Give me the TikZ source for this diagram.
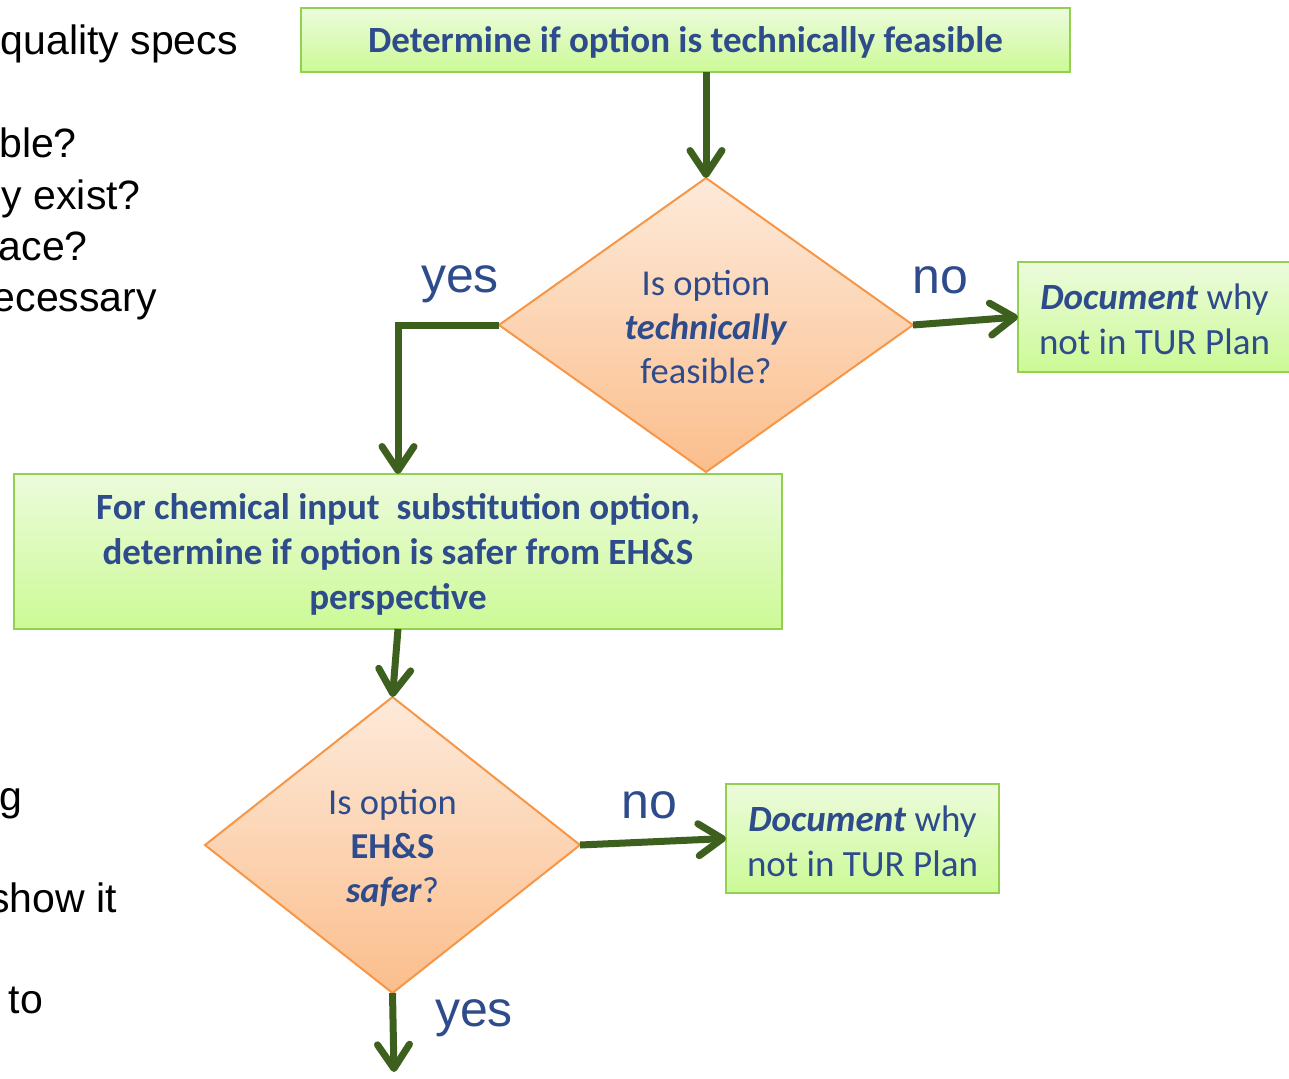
\documentclass[tikz,border=0pt]{standalone}
\usepackage{fontspec}
\setmainfont{Carlito}
\newfontfamily\arialfont{Liberation Sans}
\usetikzlibrary{arrows.meta,shapes.geometric}

\definecolor{textblue}{RGB}{46,75,140}
\definecolor{flowgreen}{RGB}{62,96,30}
\definecolor{boxtop}{RGB}{236,251,220}
\definecolor{boxbottom}{RGB}{204,250,150}
\definecolor{boxedge}{RGB}{146,208,80}
\definecolor{diatop}{RGB}{253,234,218}
\definecolor{diabottom}{RGB}{251,190,140}
\definecolor{diaedge}{RGB}{247,150,70}

% set a line a little lower without changing its box
\newcommand\lowline[1]{\raisebox{-2.5pt}[\height][\depth]{#1}}

\tikzset{
  greenbox/.style={rectangle, draw=boxedge, line width=2pt, top color=boxtop,
    bottom color=boxbottom, text=textblue, align=center, inner sep=0pt, outer sep=0pt,
    font=\fontsize{37}{45}\selectfont},
  decision/.style={diamond, draw=diaedge, line width=2pt, top color=diatop,
    bottom color=diabottom, text=textblue, align=center, inner sep=0pt, outer sep=0pt,
    font=\fontsize{36.5}{44}\selectfont},
  flow/.style={draw=flowgreen, line width=7pt,
    -{Straight Barb[length=24pt,width=32pt,round]}},
  branch/.style={text=textblue, font=\arialfont\fontsize{50}{60}\selectfont, anchor=base, inner sep=0pt},
  sidetext/.style={text=black, font=\arialfont\fontsize{41}{48}\selectfont, anchor=base east, inner sep=0pt}
}

\begin{document}
\begin{tikzpicture}[x=1pt,y=-1pt]
\useasboundingbox (0,0) rectangle (1289,1078);
\fill[white] (0,0) rectangle (1289,1078);
\clip (0,0) rectangle (1289,1078);

% fragments of the accompanying bullet text on the left
\node[sidetext] (s1) at (238,55) {quality specs};
\node[sidetext] (s2) at (77,158) {ble?};
\node[sidetext] (s3) at (141,209) {y exist?};
\node[sidetext] (s4) at (88,260) {ace?};
\node[sidetext] (s5) at (157,311) {ecessary};
\node[sidetext] (s6) at (23,810) {g};
\node[sidetext] (s7) at (117,912) {show it};
\node[sidetext] (s8) at (43,1013) {to};

% process boxes
\node[greenbox, minimum width=769pt, minimum height=64pt] (feas) at (685.5,40)
  {\lowline{\textbf{Determine if option is technically feasible}}};
\node[greenbox, minimum width=768pt, minimum height=155pt] (safe) at (398,551.5)
  {\lowline{\textbf{For chemical input~ substitution option,}}\\
   \lowline{\textbf{determine if option is safer from EH\&S}}\\
   \lowline{\textbf{perspective}}};
\node[greenbox, minimum width=273pt, minimum height=110pt] (doc1) at (1154.5,317)
  {\lowline{\textbf{\textit{Document}} why}\\\lowline{not in TUR Plan}};
\node[greenbox, minimum width=273pt, minimum height=109pt] (doc2) at (862.5,838.5)
  {\lowline{\textbf{\textit{Document}} why}\\\lowline{not in TUR Plan}};

% decisions
\node[decision, minimum width=414pt, minimum height=294pt] (q1) at (706,325)
  {\lowline{Is option}\\\lowline{\textbf{\textit{technically}}}\\\lowline{feasible?}};
\node[decision, minimum width=375pt, minimum height=296pt] (q2) at (392.5,845)
  {\lowline{Is option}\\\lowline{\textbf{EH\&S}}\\\lowline{\textbf{\textit{safer}}?}};

\coordinate (out) at (394,1072);

% connectors
\draw[flow] (q1.north |- feas.south) -- (q1.north);
\draw[flow] (q1.west) -| (safe.north);
\draw[flow] (q1.east) -- (doc1.west);
\draw[flow] (safe.south) -- (q2.north);
\draw[flow] (q2.east) -- (doc2.west);
\draw[flow] (q2.south) -- (out);

% branch labels
\node[branch] (y1) at (460,292) {yes};
\node[branch] (n1) at (940.5,293) {no};
\node[branch] (n2) at (649,818) {no};
\node[branch] (y2) at (474,1026) {yes};
\end{tikzpicture}
\end{document}
